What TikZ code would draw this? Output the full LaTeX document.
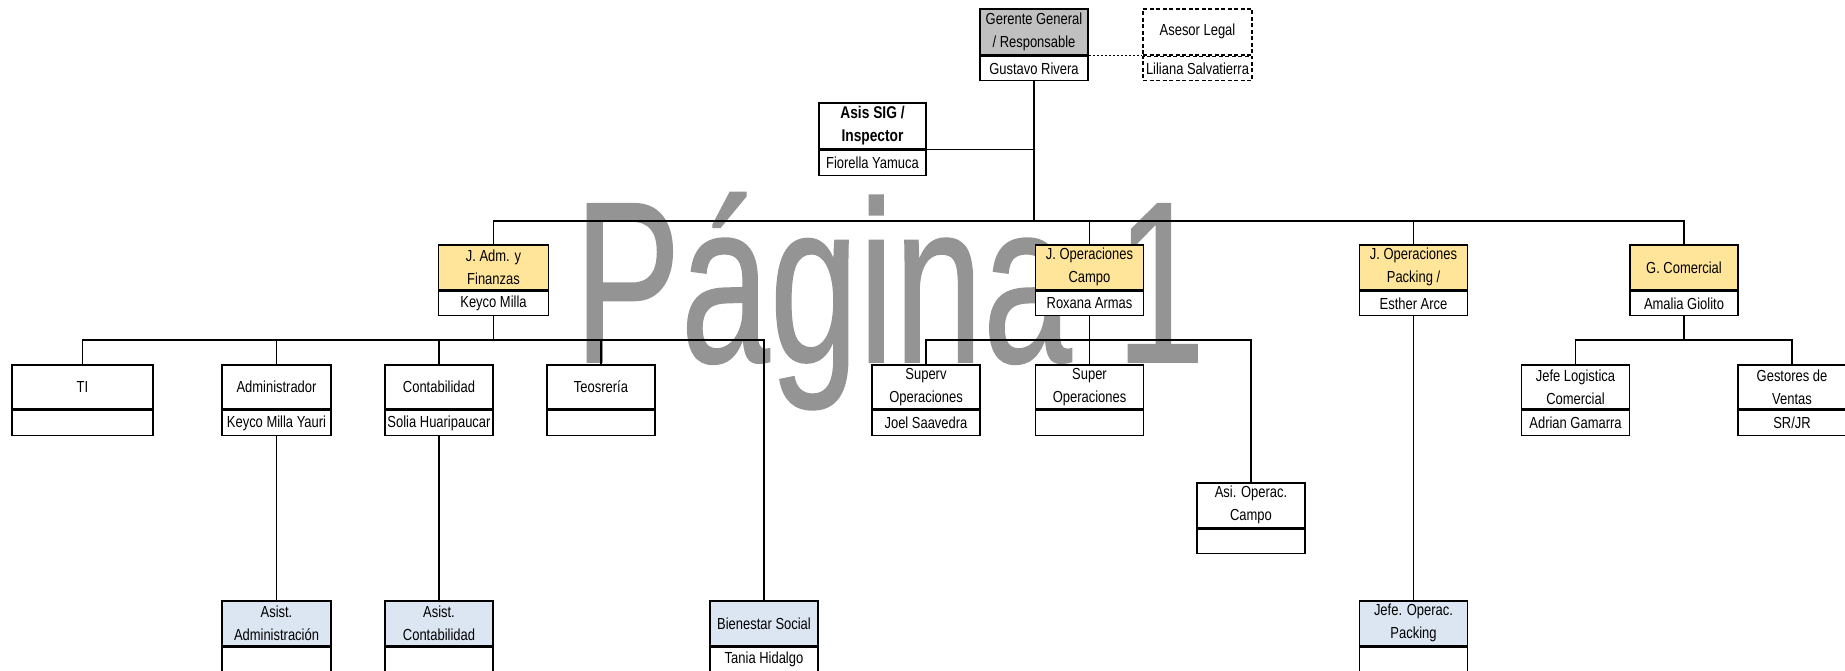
\documentclass[tikz,border=0pt]{standalone}
\usepackage{fontspec}
\newfontfamily\boxfont{Liberation Sans}[FakeStretch=0.81]
\newfontfamily\wmfont{Liberation Sans}[FakeBold=0.8]
\definecolor{gerfill}{RGB}{192,192,192}
\definecolor{yelfill}{RGB}{255,229,153}
\definecolor{blufill}{RGB}{220,230,242}
\definecolor{wmgray}{RGB}{148,148,148}
\tikzset{
  topbox/.style={draw, line width=1.6pt, inner sep=0pt, align=center, anchor=north,
    font=\boxfont\fontsize{16}{23}\selectfont},
  botbox/.style={draw, line width=1.6pt, fill=white, inner sep=0pt, align=center, anchor=north,
    font=\boxfont\fontsize{16}{23}\selectfont},
  dashbox/.style={dash pattern=on 4pt off 2.5pt},
  conn/.style={line width=1.3pt},
  dotline/.style={line width=1.5pt, dash pattern=on 2pt off 2pt},
}
\newcommand\orgbox[9]{%
  \node[topbox, fill=#7, minimum width=#4pt, minimum height=#5pt] (#1) at (#2,#3) {#8};
  \node[botbox, minimum width=#4pt, minimum height=#6pt] (#1-n) at (#1.south) {#9};}
\begin{document}
\begin{tikzpicture}[x=1pt,y=-1pt]
\useasboundingbox (0,0) rectangle (1845,670);
% watermark
\node[anchor=base west, inner sep=0pt, text=wmgray] (wm) at (574,362)
  {\scalebox{0.695}[1]{\wmfont\fontsize{230}{230}\selectfont Página 1}};
% top
\orgbox{ger}{1034}{8}{108}{46}{24}{gerfill}{Gerente General\\/ Responsable}{Gustavo Rivera}
\node[topbox, dashbox, fill=white, minimum width=109pt, minimum height=46pt] (ase) at (1197.5,8) {Asesor Legal};
\node[botbox, dashbox, minimum width=109pt, minimum height=24pt] (ase-n) at (ase.south) {Liliana Salvatierra};
\orgbox{asis}{872.5}{102}{107}{46}{25}{white}{\bfseries\fontsize{17}{22}\selectfont Asis SIG /\\\bfseries\fontsize{17}{22}\selectfont Inspector}{Fiorella Yamuca}
% level 1
\orgbox{jadm}{493.5}{244}{110}{45}{24}{yelfill}{J. Adm. y\\Finanzas}{Keyco Milla}
\orgbox{jopc}{1089.5}{244}{108}{45}{24}{yelfill}{J. Operaciones\\Campo}{Roxana Armas}
\orgbox{jopp}{1413.5}{244}{108}{45}{24}{yelfill}{J. Operaciones\\Packing /}{Esther Arce}
\orgbox{gcom}{1684}{244}{108}{45}{24}{yelfill}{G. Comercial}{Amalia Giolito}
% level 2
\orgbox{ti}{82.5}{364}{141}{44}{25}{white}{TI}{}
\orgbox{adm}{276.5}{364}{109}{44}{25}{white}{Administrador}{Keyco Milla Yauri}
\orgbox{con}{439}{364}{108}{44}{25}{white}{Contabilidad}{Solia Huaripaucar}
\orgbox{teo}{601}{364}{108}{44}{25}{white}{Teosrería}{}
\orgbox{supv}{926}{364}{108}{44}{25}{white}{Superv\\Operaciones}{Joel Saavedra}
\orgbox{sup}{1089.5}{364}{108}{44}{25}{white}{Super\\Operaciones}{}
\orgbox{jlog}{1575.5}{364}{108}{44}{25}{white}{Jefe Logistica\\Comercial}{Adrian Gamarra}
\orgbox{gest}{1792}{364}{108}{44}{25}{white}{Gestores de\\Ventas}{SR/JR}
% level 3
\orgbox{asiop}{1251}{482}{108}{45}{24}{white}{Asi. Operac.\\Campo}{}
\orgbox{asadm}{276.5}{600}{109}{45}{24}{blufill}{Asist.\\Administración}{}
\orgbox{ascon}{439}{600}{108}{45}{24}{blufill}{Asist.\\Contabilidad}{}
\orgbox{bien}{764}{600}{108}{45}{24}{blufill}{Bienestar Social}{Tania Hidalgo}
\orgbox{jefop}{1413.5}{600}{108}{45}{24}{blufill}{Jefe. Operac.\\Packing}{}
% connectors
\coordinate (bus0) at (0,221);
\coordinate (bus2) at (0,340);
\draw[dotline] (ger.south east) -- (ase.south west);
\draw[conn] (ger-n.south) -- (ger-n.south |- bus0);
\draw[conn] (asis.south east) -- (asis.south east -| ger-n.south);
\draw[conn] (jadm.north) -- (jadm.north |- bus0) -| (gcom.north);
\draw[conn] (jopc.north) -- (jopc.north |- bus0);
\draw[conn] (jopp.north) -- (jopp.north |- bus0);
\draw[conn] (jadm-n.south) -- (jadm-n.south |- bus2);
\draw[conn] (ti.north) -- (ti.north |- bus2) -| (bien.north);
\draw[conn] (adm.north) -- (adm.north |- bus2);
\draw[conn] (con.north) -- (con.north |- bus2);
\draw[conn] (teo.north) -- (teo.north |- bus2);
\draw[conn] (adm-n.south) -- (asadm.north);
\draw[conn] (con-n.south) -- (ascon.north);
\draw[conn] (jopc-n.south) -- (sup.north);
\draw[conn] (supv.north) -- (supv.north |- bus2) -| (asiop.north);
\draw[conn] (jopp-n.south) -- (jefop.north);
\draw[conn] (gcom-n.south) -- (gcom-n.south |- bus2);
\draw[conn] (jlog.north) -- (jlog.north |- bus2) -| (gest.north);
\end{tikzpicture}
\end{document}
